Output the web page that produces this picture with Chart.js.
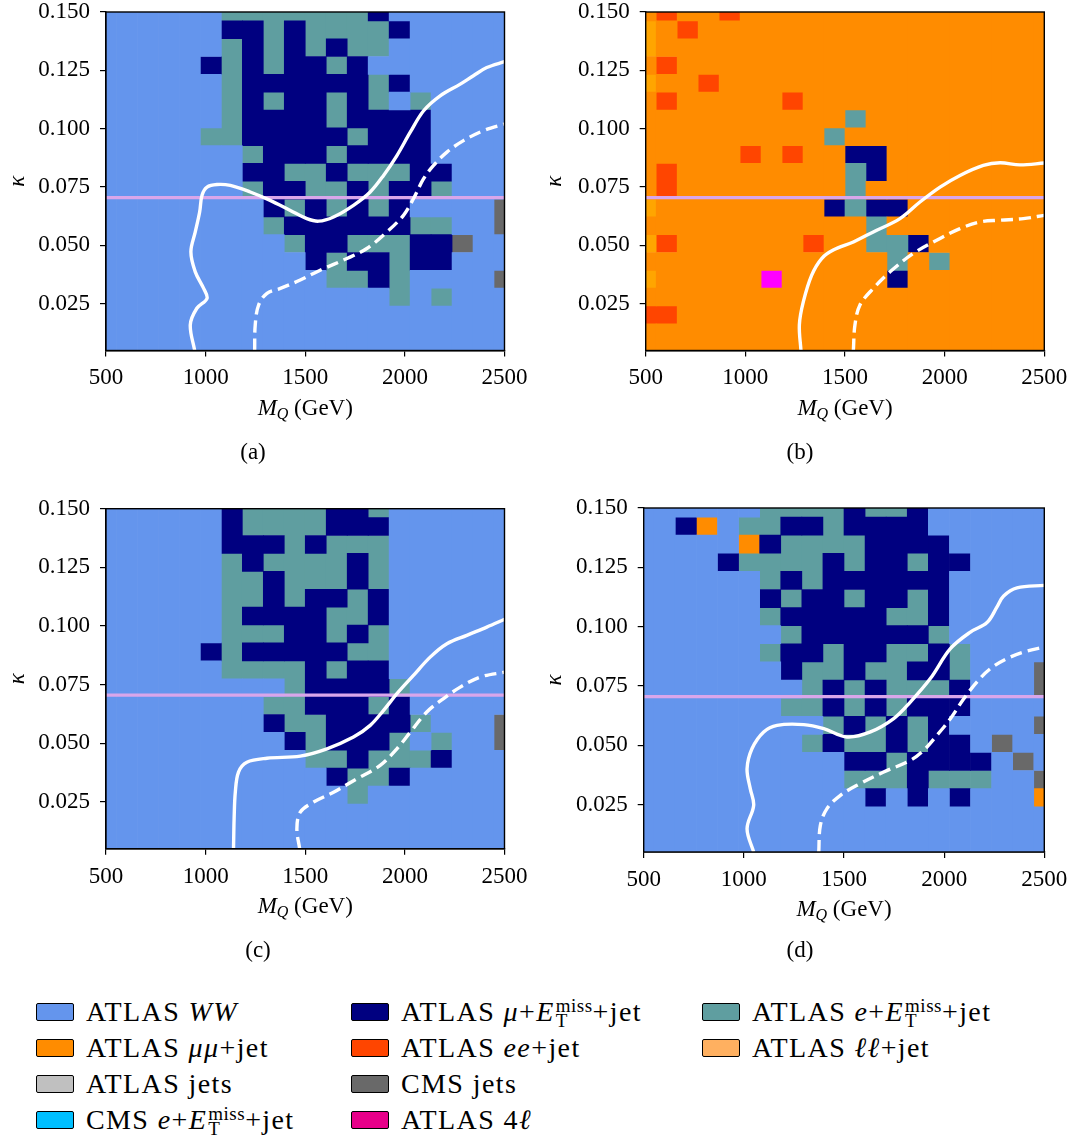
<!DOCTYPE html>
<html>
<head>
<meta charset="utf-8">
<script src="https://cdn.jsdelivr.net/npm/chart.js@4.4.0/dist/chart.umd.min.js"></script>
<style>
body { margin: 0; background: #fff; }
#fig { position: relative; width: 1074px; height: 1139px; font-family: "Liberation Serif", "DejaVu Serif", serif; color: #000; overflow: hidden; }
#fig canvas { position: absolute; }
.lbl { position: absolute; width: 300px; font-size: 23px; line-height: 26px; text-align: center; white-space: nowrap; }
.lbl sub { font-size: 16px; vertical-align: -4px; line-height: 0; }
.item { position: absolute; font-size: 28px; line-height: 30px; white-space: nowrap; letter-spacing: 1.4px; }
.box { position: absolute; width: 36px; height: 16px; border: 1.6px solid #000; border-radius: 2px; }
.ss { display: inline-block; font-size: 19px; line-height: 15px; vertical-align: -6px; letter-spacing: 0.5px; margin-left: 1px; }
.ss span { display: block; }
</style>
</head>
<body>
<div id="fig"></div>
<script>
// cell centres of the 20 x 20 grid
var xCenters = [500, 605.26, 710.53, 815.79, 921.05, 1026.32, 1131.58, 1236.84, 1342.11, 1447.37,
                1552.63, 1657.89, 1763.16, 1868.42, 1973.68, 2078.95, 2184.21, 2289.47, 2394.74, 2500];
var yCenters = [0.15, 0.14237, 0.13474, 0.12711, 0.11947, 0.11184, 0.10421, 0.09658, 0.08895, 0.08132,
                0.07368, 0.06605, 0.05842, 0.05079, 0.04316, 0.03553, 0.02789, 0.02026, 0.01263, 0.005];
var xTicks = [500, 1000, 1500, 2000, 2500];
var yTicks = [0.025, 0.05, 0.075, 0.1, 0.125, 0.15];
var kappaLine = 0.0705;

// categories (legend order, column by column)
var catCodes = ["W", "O", "S", "C", "M", "R", "G", "P", "E", "L"];
var ET = '<i>E</i><span class="ss"><span>miss</span><span>T</span></span>';
var catNames = [
    "ATLAS <i>WW</i>",
    "ATLAS <i>μμ</i>+jet",
    "ATLAS jets",
    "CMS <i>e</i>+" + ET + "+jet",
    "ATLAS <i>μ</i>+" + ET + "+jet",
    "ATLAS <i>ee</i>+jet",
    "CMS jets",
    "ATLAS 4<i>ℓ</i>",
    "ATLAS <i>e</i>+" + ET + "+jet",
    "ATLAS <i>ℓℓ</i>+jet"
];
var catColors = ["#6495ED", "#FF8C00", "#C0C0C0", "#00BFFF", "#000080", "#FF4500", "#696969", "#FF00FF", "#5F9EA0", "#FFA500"];
var legendColors = ["#6495ED", "#FF8C00", "#C0C0C0", "#00BFFF", "#000080", "#FF4500", "#696969", "#E8008A", "#5F9EA0", "#FFB060"];

// rows from kappa = 0.150 (top) down to 0.005
var gridA = [
    "WWWWWWEEEEEEEMWWWWWW",
    "WWWWWWMMEMEEEEMWWWWW",
    "WWWWWWEMEMEMEEWWWWWW",
    "WWWWWMEMEMMEMWWWWWWW",
    "WWWWWWEMMMMMMEMWWWWW",
    "WWWWWWEMEMMEMEWEWWWW",
    "WWWWWWEMMMMEMMMMWWWW",
    "WWWWWEEMMMMMEMMMWWWW",
    "WWWWWWWEMMMEMMMMWWWW",
    "WWWWWWWMMEEMEEEMMWWW",
    "WWWWWWWEMMEEMEMMEWWW",
    "WWWWWWWWMEMEMEMWWWWG",
    "WWWWWWWWEMMMMMMEEWWG",
    "WWWWWWWWWEMMEEEMMGWW",
    "WWWWWWWWWWMEMMEMMWWW",
    "WWWWWWWWWWWEEMEWWWWG",
    "WWWWWWWWWWWWWWEWEWWW",
    "WWWWWWWWWWWWWWWWWWWW",
    "WWWWWWWWWWWWWWWWWWWW",
    "WWWWWWWWWWWWWWWWWWWW"
];
var gridB = [
    "OROOROOOOOOOOOOOOOOO",
    "LOROOOOOOOOOOOOOOOOO",
    "LOOOOOOOOOOOOOOOOOOO",
    "OROOOOOOOOOOOOOOOOOO",
    "LOOROOOOOOOOOOOOOOOO",
    "OROOOOOROOOOOOOOOOOO",
    "OOOOOOOOOOEOOOOOOOOO",
    "OOOOOOOOOEOOOOOOOOOO",
    "OOOOOROROOMMOOOOOOOO",
    "OROOOOOOOOEMOOOOOOOO",
    "OROOOOOOOOEOOOOOOOOO",
    "LOOOOOOOOMEMMOOOOOOO",
    "OOOOOOOOOOOEOOOOOOOO",
    "LROOOOOOROOEEMOOOOOO",
    "OOOOOOOOOOOOEOEOOOOO",
    "LOOOOOPOOOOOMOOOOOOO",
    "OOOOOOOOOOOOOOOOOOOO",
    "RROOOOOOOOOOOOOOOOOO",
    "OOOOOOOOOOOOOOOOOOOO",
    "OOOOOOOOOOOOOOOOOOOO"
];
var gridC = [
    "WWWWWWMEEEEMMEWWWWWW",
    "WWWWWWMEEEEMMMWWWWWW",
    "WWWWWWMMMEMEEEWWWWWW",
    "WWWWWWEMEEEEMEWWWWWW",
    "WWWWWWEEMEEEMEWWWWWW",
    "WWWWWWEEMEMMEMWWWWWW",
    "WWWWWWEMMMMEEMWWWWWW",
    "WWWWWWEEEMMEMEWWWWWW",
    "WWWWWMEMMMMMEEWWWWWW",
    "WWWWWWEEEEMEMMWWWWWW",
    "WWWWWWWWWEMMMMEWWWWW",
    "WWWWWWWWEEMMMEMWWWWW",
    "WWWWWWWWMEEMMMMEWWWG",
    "WWWWWWWWWMEMMMEWEWWG",
    "WWWWWWWWWWEEMEEEMWWW",
    "WWWWWWWWWWWMEEMWWWWW",
    "WWWWWWWWWWWWEWWWWWWW",
    "WWWWWWWWWWWWWWWWWWWW",
    "WWWWWWWWWWWWWWWWWWWW",
    "WWWWWWWWWWWWWWWWWWWW"
];
var gridD = [
    "WWWWWWEEEEMEEMWWWWWW",
    "WWMOWEEMMEMMMMWWWWWW",
    "WWWWWOMEEEEMMMMWWWWW",
    "WWWWMEEEEMEMMEMMWWWW",
    "WWWWWWEMEMMMMMMWWWWW",
    "WWWWWWMEMMEMMEMWWWWW",
    "WWWWWWEMMMMMEEMWWWWW",
    "WWWWWWWEMMMMMMEWWWWW",
    "WWWWWWEMMEMMEEMEWWWW",
    "WWWWWWWMEEMEEMMEWWWG",
    "WWWWWWWWEMEMEEEMWWWG",
    "WWWWWWWEEMEMEMMMWWWW",
    "WWWWWWWWWEMEMEMWWWWG",
    "WWWWWWWWEMEEMEMMWGWW",
    "WWWWWWWWWWMMEMMMMWGW",
    "WWWWWWWWWWEEEMEEEWWG",
    "WWWWWWWWWWWMWMWMWWWO",
    "WWWWWWWWWWWWWWWWWWWW",
    "WWWWWWWWWWWWWWWWWWWW",
    "WWWWWWWWWWWWWWWWWWWW"
];

// white exclusion contours [M_Q, kappa]
var solidA = [[945, 0.005], [923, 0.016], [956, 0.0231], [1007, 0.0273], [990, 0.0316], [948, 0.0387], [926, 0.0473],
    [948, 0.0558], [970, 0.0643], [982, 0.0715], [1007, 0.075], [1057, 0.0761], [1124, 0.0757], [1224, 0.0729],
    [1324, 0.0693], [1425, 0.065], [1508, 0.0615], [1567, 0.0604], [1642, 0.0622], [1742, 0.0672], [1826, 0.0729],
    [1893, 0.08], [1960, 0.0885], [2027, 0.0985], [2094, 0.1077], [2177, 0.1141], [2278, 0.1191], [2344, 0.1227],
    [2411, 0.1262], [2500, 0.1287]];
var dashedA = [[1246, 0.005], [1249, 0.016], [1266, 0.0245], [1308, 0.0295], [1375, 0.0316], [1475, 0.0352],
    [1575, 0.0394], [1709, 0.0444], [1809, 0.0487], [1910, 0.0558], [1993, 0.0629], [2043, 0.07], [2094, 0.0786],
    [2144, 0.0843], [2211, 0.09], [2294, 0.0949], [2395, 0.0992], [2500, 0.102]];
var solidB = [[1279, 0.005], [1271, 0.016], [1291, 0.0259], [1333, 0.0373], [1383, 0.0444], [1441, 0.048],
    [1542, 0.0515], [1642, 0.0558], [1776, 0.0615], [1876, 0.0686], [1977, 0.075], [2077, 0.08], [2194, 0.0843],
    [2278, 0.0854], [2378, 0.0845], [2500, 0.0853]];
var dashedB = [[1542, 0.005], [1550, 0.016], [1575, 0.0245], [1642, 0.0316], [1726, 0.0387], [1843, 0.0466],
    [1977, 0.053], [2077, 0.0572], [2177, 0.0601], [2278, 0.0608], [2395, 0.0615], [2500, 0.0629]];
var solidC = [[1140, 0.005], [1143, 0.0178], [1149, 0.0291], [1165, 0.0377], [1207, 0.0419], [1308, 0.0436],
    [1475, 0.0445], [1609, 0.0476], [1742, 0.0526], [1826, 0.0576], [1893, 0.064], [1960, 0.0711], [2043, 0.0789],
    [2127, 0.0867], [2211, 0.0924], [2311, 0.096], [2411, 0.0995], [2500, 0.1028]];
var dashedC = [[1472, 0.005], [1458, 0.0135], [1475, 0.0206], [1542, 0.0249], [1642, 0.0291], [1759, 0.0348],
    [1876, 0.0405], [1960, 0.0476], [2027, 0.0547], [2110, 0.0633], [2194, 0.069], [2278, 0.0739], [2378, 0.0782],
    [2500, 0.0803]];
var solidD = [[1049, 0.005], [1016, 0.0148], [1049, 0.0247], [1032, 0.0317], [1016, 0.0401], [1041, 0.0486],
    [1099, 0.0556], [1166, 0.0584], [1299, 0.0587], [1399, 0.057], [1515, 0.0535], [1632, 0.0556], [1748, 0.0612],
    [1831, 0.0682], [1931, 0.0781], [2031, 0.0907], [2131, 0.0977], [2214, 0.1017], [2264, 0.1083], [2297, 0.1129],
    [2364, 0.1163], [2500, 0.1174]];
var dashedD = [[1374, 0.005], [1382, 0.0162], [1415, 0.0233], [1482, 0.0289], [1565, 0.0331], [1698, 0.0387],
    [1831, 0.0436], [1898, 0.0479], [1964, 0.0542], [2031, 0.0612], [2098, 0.0696], [2164, 0.0767], [2231, 0.0823],
    [2314, 0.0865], [2397, 0.0893], [2500, 0.0914]];

var FONT = '"Liberation Serif", "DejaVu Serif", serif';
var fig = document.getElementById("fig");

// page placement of each panel: canvas corner and plot-area box
var panels = [
    { tag: "(a)", grid: gridA, solid: solidA, dashed: dashedA, cx: 0, cy: 0, area: { l: 106, t: 12, r: 504.5, b: 350.5 }, cap: [253, 452] },
    { tag: "(b)", grid: gridB, solid: solidB, dashed: dashedB, cx: 537, cy: 0, area: { l: 645.7, t: 12, r: 1044.3, b: 350.5 }, cap: [800, 452] },
    { tag: "(c)", grid: gridC, solid: solidC, dashed: dashedC, cx: 0, cy: 497, area: { l: 106, t: 508.7, r: 504.5, b: 848.7 }, cap: [258, 950] },
    { tag: "(d)", grid: gridD, solid: solidD, dashed: dashedD, cx: 537, cy: 497, area: { l: 643.7, t: 508, r: 1044.3, b: 852 }, cap: [800, 950] }
];
var CW = 537, CH = 400;

// merge vertical runs of equal cells into floating bars, one dataset per category
function cellDatasets(grid) {
    var half = (yCenters[0] - yCenters[1]) / 2;
    var byCode = {};
    for (var c = 0; c < xCenters.length; c++) {
        var r = 0;
        while (r < grid.length) {
            var code = grid[r][c];
            var r2 = r;
            while (r2 + 1 < grid.length && grid[r2 + 1][c] === code) r2++;
            (byCode[code] = byCode[code] || []).push({ x: xCenters[c], y: [yCenters[r2] - half, yCenters[r] + half] });
            r = r2 + 1;
        }
    }
    return Object.keys(byCode).map(function (code) {
        return {
            type: "bar",
            data: byCode[code],
            backgroundColor: catColors[catCodes.indexOf(code)],
            borderWidth: 0,
            grouped: false,
            barPercentage: 1,
            categoryPercentage: 1,
            clip: 0,
            order: 3
        };
    });
}

function contour(points, dashed) {
    return {
        type: "line",
        data: points.map(function (p) { return { x: p[0], y: p[1] }; }),
        borderColor: "#fff",
        borderWidth: 3.4,
        borderDash: dashed ? [12, 6] : [],
        pointRadius: 0,
        tension: 0.35,
        fill: false,
        clip: 0,
        order: 1
    };
}

var framePlugin = {
    id: "frame",
    afterDraw: function (chart) {
        var a = chart.chartArea, ctx = chart.ctx;
        ctx.save();
        ctx.strokeStyle = "#000";
        ctx.lineWidth = 1.4;
        ctx.strokeRect(a.left, a.top, a.right - a.left, a.bottom - a.top);
        ctx.restore();
    }
};

panels.forEach(function (p) {
    var canvas = document.createElement("canvas");
    canvas.width = CW;
    canvas.height = CH;
    canvas.style.left = p.cx + "px";
    canvas.style.top = p.cy + "px";
    fig.appendChild(canvas);

    var yWidth = p.area.l - p.cx;
    var padTop = p.area.t - p.cy;
    var padRight = p.cx + CW - p.area.r;
    var xHeight = p.cy + CH - p.area.b;

    var datasets = cellDatasets(p.grid);
    datasets.push({
        type: "line",
        data: [{ x: xTicks[0], y: kappaLine }, { x: xTicks[xTicks.length - 1], y: kappaLine }],
        borderColor: "#D9A6EA",
        borderWidth: 3.4,
        pointRadius: 0,
        clip: 0,
        order: 2
    });
    datasets.push(contour(p.solid, false));
    datasets.push(contour(p.dashed, true));

    new Chart(canvas.getContext("2d"), {
        type: "bar",
        data: { datasets: datasets },
        options: {
            responsive: false,
            animation: false,
            events: [],
            layout: { padding: { top: padTop, right: padRight, left: 0, bottom: 0 } },
            plugins: { legend: { display: false }, tooltip: { enabled: false } },
            scales: {
                x: {
                    type: "linear",
                    min: 500,
                    max: 2500,
                    offset: false,
                    grid: { display: true, offset: false, drawOnChartArea: false, tickLength: 6, color: "#000", lineWidth: 1.2 },
                    border: { display: true, color: "#000", width: 1.4 },
                    ticks: {
                        color: "#000", font: { family: FONT, size: 23 }, padding: 8, maxRotation: 0,
                        callback: function (v) { return String(v); }
                    },
                    afterBuildTicks: function (s) { s.ticks = xTicks.map(function (v) { return { value: v }; }); },
                    afterFit: function (s) { s.height = xHeight; s.paddingLeft = 0; s.paddingRight = 0; }
                },
                y: {
                    type: "linear",
                    min: 0.005,
                    max: 0.15,
                    beginAtZero: false,
                    grid: { display: true, drawOnChartArea: false, tickLength: 6, color: "#000", lineWidth: 1.2 },
                    border: { display: true, color: "#000", width: 1.4 },
                    ticks: {
                        color: "#000", font: { family: FONT, size: 23 }, padding: 10,
                        callback: function (v) { return v.toFixed(3); }
                    },
                    title: { display: true, text: "κ", color: "#000", font: { family: FONT, size: 23, style: "italic" }, padding: { top: 4, bottom: 0 } },
                    afterBuildTicks: function (s) { s.ticks = yTicks.map(function (v) { return { value: v }; }); },
                    afterFit: function (s) { s.width = yWidth; s.paddingTop = 0; s.paddingBottom = 0; }
                }
            }
        },
        plugins: [framePlugin]
    });

    var xl = document.createElement("div");
    xl.className = "lbl";
    xl.style.left = ((p.area.l + p.area.r) / 2 - 150) + "px";
    xl.style.top = (p.area.b + 57 - 13) + "px";
    xl.innerHTML = "<i>M</i><sub><i>Q</i></sub> (GeV)";
    fig.appendChild(xl);

    var cap = document.createElement("div");
    cap.className = "lbl";
    cap.style.left = (p.cap[0] - 150) + "px";
    cap.style.top = (p.cap[1] - 13) + "px";
    cap.textContent = p.tag;
    fig.appendChild(cap);
});

// legend, three columns filled top to bottom
var legCols = [36, 351, 702];
var legRows = [1012, 1048, 1084, 1120];
catCodes.forEach(function (code, i) {
    var col = Math.floor(i / 4), row = i % 4;
    var box = document.createElement("div");
    box.className = "box";
    box.style.left = legCols[col] + "px";
    box.style.top = (legRows[row] - 9.5) + "px";
    box.style.background = legendColors[i];
    fig.appendChild(box);
    var txt = document.createElement("div");
    txt.className = "item";
    txt.style.left = (legCols[col] + 50) + "px";
    txt.style.top = (legRows[row] - 15) + "px";
    txt.innerHTML = catNames[i];
    fig.appendChild(txt);
});
</script>
</body>
</html>
